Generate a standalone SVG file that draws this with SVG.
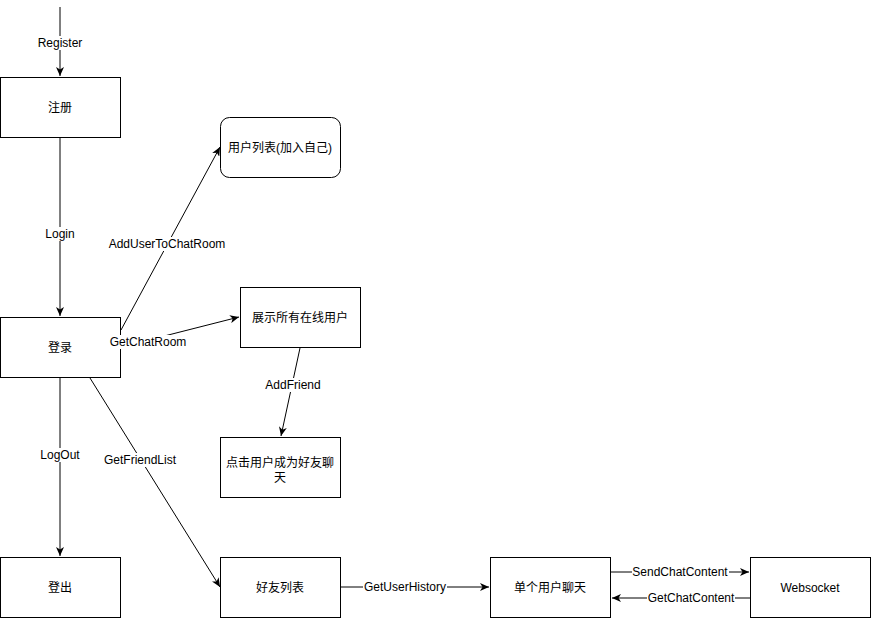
<svg xmlns="http://www.w3.org/2000/svg" width="871" height="618" viewBox="0 0 871 618">
<style>
.n{fill:#fff;stroke:#000;stroke-width:1}
.t{font-family:"Liberation Sans","Noto Sans CJK SC",sans-serif;font-size:12px;fill:#000;text-anchor:middle}
.e{fill:none;stroke:#000;stroke-width:1}
.lb{fill:#fff;stroke:none}
</style>
<defs>
<marker id="a" markerUnits="userSpaceOnUse" markerWidth="10" markerHeight="8" refX="9" refY="4" orient="auto">
<path d="M0,0 L9,4 L0,8 L2.5,4 Z" fill="#000"/>
</marker>
</defs>
<rect width="871" height="618" fill="#fff"/>
<g id="register"><rect class="n" x="0.5" y="77.5" width="120" height="60"/><text class="t" x="60" y="112">注册</text></g>
<g id="login"><rect class="n" x="0.5" y="317.5" width="120" height="60"/><text class="t" x="60" y="352">登录</text></g>
<g id="logout"><rect class="n" x="0.5" y="557.5" width="120" height="60"/><text class="t" x="60" y="592">登出</text></g>
<g id="userlist"><rect class="n" x="220.5" y="117.5" width="120" height="60" rx="9" ry="9"/><text class="t" x="280" y="152">用户列表(加入自己)</text></g>
<g id="online"><rect class="n" x="240.5" y="287.5" width="120" height="60"/><text class="t" x="300" y="322">展示所有在线用户</text></g>
<g id="addfriend"><rect class="n" x="220.5" y="437.5" width="120" height="60"/><text class="t" x="280" y="467">点击用户成为好友聊</text><text class="t" x="280" y="482">天</text></g>
<g id="friendlist"><rect class="n" x="220.5" y="557.5" width="120" height="60"/><text class="t" x="280" y="592">好友列表</text></g>
<g id="chat"><rect class="n" x="490.5" y="557.5" width="120" height="60"/><text class="t" x="550" y="592">单个用户聊天</text></g>
<g id="websocket"><rect class="n" x="750.5" y="557.5" width="120" height="60"/><text class="t" x="810" y="592">Websocket</text></g>
<g id="edges">
<line class="e" x1="60" y1="7" x2="60" y2="76" marker-end="url(#a)"/>
<line class="e" x1="60" y1="138" x2="60" y2="316" marker-end="url(#a)"/>
<line class="e" x1="60" y1="378" x2="60" y2="556" marker-end="url(#a)"/>
<line class="e" x1="121" y1="330" x2="220" y2="147" marker-end="url(#a)"/>
<line class="e" x1="121" y1="347" x2="239" y2="317" marker-end="url(#a)"/>
<line class="e" x1="300" y1="348" x2="281" y2="436" marker-end="url(#a)"/>
<line class="e" x1="90" y1="378" x2="220" y2="587" marker-end="url(#a)"/>
<line class="e" x1="341" y1="587" x2="489" y2="587" marker-end="url(#a)"/>
<line class="e" x1="611" y1="572" x2="749" y2="572" marker-end="url(#a)"/>
<line class="e" x1="750" y1="598" x2="612" y2="598" marker-end="url(#a)"/>
<g id="edge-labels">
<rect class="lb" x="38" y="36" width="44" height="14"/><text class="t" x="60" y="47">Register</text>
<rect class="lb" x="45" y="227" width="30" height="14"/><text class="t" x="60" y="238">Login</text>
<rect class="lb" x="40" y="448" width="40" height="14"/><text class="t" x="60" y="459">LogOut</text>
<rect class="lb" x="108" y="237" width="118" height="14"/><text class="t" x="167" y="248">AddUserToChatRoom</text>
<rect class="lb" x="109" y="335" width="78" height="14"/><text class="t" x="148" y="346">GetChatRoom</text>
<rect class="lb" x="265" y="378" width="57" height="14"/><text class="t" x="293" y="389">AddFriend</text>
<rect class="lb" x="103" y="453" width="74" height="14"/><text class="t" x="140" y="464">GetFriendList</text>
<rect class="lb" x="363" y="580" width="84" height="14"/><text class="t" x="405" y="591">GetUserHistory</text>
<rect class="lb" x="632" y="565" width="97" height="14"/><text class="t" x="680" y="576">SendChatContent</text>
<rect class="lb" x="647" y="591" width="88" height="14"/><text class="t" x="691" y="602">GetChatContent</text>
</g>
</g>
</svg>
